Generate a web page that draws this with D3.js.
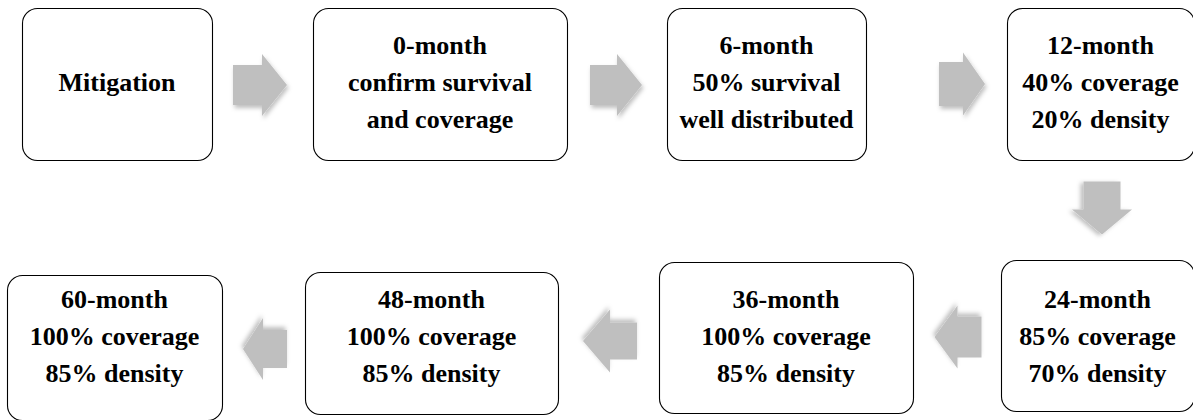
<!DOCTYPE html>
<html>
<head>
<meta charset="utf-8">
<script src="https://cdn.jsdelivr.net/npm/d3@7"></script>
</head>
<body style="margin:0">
<div id="chart"></div>
<script>
// stage text, one entry per box (in flow order)
var stages = ["mitigation", "m0", "m6", "m12", "m24", "m36", "m48", "m60"];
var stageLines = [
    ["Mitigation"],
    ["0-month", "confirm survival", "and coverage"],
    ["6-month", "50% survival", "well distributed"],
    ["12-month", "40% coverage", "20% density"],
    ["24-month", "85% coverage", "70% density"],
    ["36-month", "100% coverage", "85% density"],
    ["48-month", "100% coverage", "85% density"],
    ["60-month", "100% coverage", "85% density"]
];
// which row each stage sits in
var stageRow = [0, 0, 0, 0, 1, 1, 1, 1];

var width = 1193, height = 420;

// layout (geometry only)
var boxLayout = [
    { x: 22, y: 8, w: 190, h: 152 },
    { x: 313, y: 8, w: 254, h: 152 },
    { x: 667, y: 8, w: 199, h: 152 },
    { x: 1007, y: 8, w: 187, h: 152 },
    { x: 1001, y: 260, w: 193, h: 151 },
    { x: 659, y: 262, w: 254, h: 151 },
    { x: 305, y: 272, w: 253, h: 142 },
    { x: 7, y: 275, w: 215, h: 145 }
];
var rowBaseline = [91, 345];   // baseline of the middle text line per row
var lineGap = 37;

// arrows between stages: centre, direction, length
var arrowLayout = [
    { cx: 260, cy: 85, dir: "right", len: 54, shaft: 40, head: 62, headLen: 25 },
    { cx: 616, cy: 85, dir: "right", len: 52, shaft: 40, head: 62, headLen: 25 },
    { cx: 962, cy: 84, dir: "right", len: 46, shaft: 44, head: 63, headLen: 22 },
    { cx: 1102, cy: 208, dir: "down", len: 53, shaft: 37, head: 60, headLen: 25 },
    { cx: 958, cy: 337, dir: "left", len: 47, shaft: 41, head: 63, headLen: 23 },
    { cx: 610, cy: 341, dir: "left", len: 54, shaft: 37, head: 63, headLen: 27 },
    { cx: 265, cy: 349, dir: "left", len: 44, shaft: 38, head: 62, headLen: 20 }
];

var svg = d3.select("#chart").append("svg")
    .attr("width", width)
    .attr("height", height)
    .style("display", "block");

var defs = svg.append("defs");
var shadow = defs.append("filter")
    .attr("id", "shadow")
    .attr("x", "-30%").attr("y", "-30%")
    .attr("width", "160%").attr("height", "160%");
shadow.append("feDropShadow")
    .attr("dx", 1.5).attr("dy", 3)
    .attr("stdDeviation", 2)
    .attr("flood-color", "#000")
    .attr("flood-opacity", 0.25);

// arrow outline: built pointing right around (0,0), then rotated
function arrowPath(a) {
    var x0 = -a.len / 2, x1 = a.len / 2, xm = x1 - a.headLen,
        s = a.shaft / 2, h = a.head / 2;
    var pts = [[x0, -s], [xm, -s], [xm, -h], [x1, 0], [xm, h], [xm, s], [x0, s]];
    return d3.line()(pts) + "Z";
}
var rot = { right: 0, down: 90, left: 180, up: 270 };

svg.selectAll("path.arrow")
    .data(arrowLayout)
    .enter().append("path")
    .attr("class", "arrow")
    .attr("d", arrowPath)
    .attr("transform", function(d) {
        return "translate(" + d.cx + "," + d.cy + ") rotate(" + rot[d.dir] + ")";
    })
    .attr("fill", "#bfbfbf")
    .attr("filter", "url(#shadow)");

svg.selectAll("rect.box")
    .data(stages)
    .enter().append("rect")
    .attr("class", "box")
    .attr("x", function(d, i) { return boxLayout[i].x + 0.5; })
    .attr("y", function(d, i) { return boxLayout[i].y + 0.5; })
    .attr("width", function(d, i) { return boxLayout[i].w; })
    .attr("height", function(d, i) { return boxLayout[i].h; })
    .attr("rx", 15).attr("ry", 15)
    .attr("fill", "#fff")
    .attr("stroke", "#000")
    .attr("stroke-width", 1.1);

// flatten text lines so each becomes a direct svg text
var textRows = [];
stageLines.forEach(function(lines, i) {
    var b = boxLayout[i],
        first = rowBaseline[stageRow[i]] - (lines.length - 1) / 2 * lineGap;
    lines.forEach(function(t, j) {
        textRows.push({ text: t, x: b.x + b.w / 2, y: first + j * lineGap });
    });
});

svg.selectAll("text")
    .data(textRows)
    .enter().append("text")
    .attr("x", function(d) { return d.x; })
    .attr("y", function(d) { return d.y; })
    .attr("font-family", "Liberation Serif")
    .attr("font-weight", "bold")
    .attr("font-size", 26)
    .attr("text-anchor", "middle")
    .text(function(d) { return d.text; });
</script>
</body>
</html>
